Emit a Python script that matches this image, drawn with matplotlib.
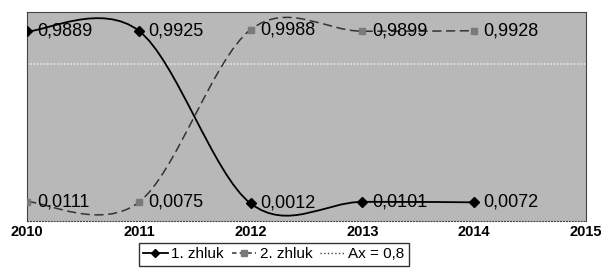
import matplotlib.pyplot as plt
from matplotlib.path import Path
from matplotlib.patches import PathPatch
from matplotlib.lines import Line2D

plt.rcParams['font.family'] = ['Liberation Sans', 'DejaVu Sans']

roky = [2010, 2011, 2012, 2013, 2014]
zhluk1 = [0.9889, 0.9925, 0.0012, 0.0101, 0.0072]
zhluk2 = [0.0111, 0.0075, 0.9988, 0.9899, 0.9928]
ax_hodnota = 0.8
popisky1 = ['0,9889', '0,9925', '0,0012', '0,0101', '0,0072']
popisky2 = ['0,0111', '0,0075', '0,9988', '0,9899', '0,9928']


def hladka_cesta(x, y):
    # vyhladena ciara ako v exceli (bezier cez body)
    body = list(zip(x, y))
    verts = [body[0]]
    codes = [Path.MOVETO]
    n = len(body)
    for i in range(n - 1):
        p0 = body[i - 1] if i > 0 else body[i]
        p1 = body[i]
        p2 = body[i + 1]
        p3 = body[i + 2] if i + 2 < n else body[i + 1]
        c1 = (p1[0] + (p2[0] - p0[0]) / 6, p1[1] + (p2[1] - p0[1]) / 6)
        c2 = (p2[0] - (p3[0] - p1[0]) / 6, p2[1] - (p3[1] - p1[1]) / 6)
        verts += [c1, c2, p2]
        codes += [Path.CURVE4] * 3
    return Path(verts, codes)


fig = plt.figure(figsize=(6.02, 2.71), dpi=100)
ax = fig.add_axes([0.045, 0.1845, 0.928, 0.771])
ax.set_facecolor('#b8b8b8')

ax.add_patch(PathPatch(hladka_cesta(roky, zhluk1), fill=False, edgecolor='black', lw=1.3, zorder=3))
ax.add_patch(PathPatch(hladka_cesta(roky, zhluk2), fill=False, edgecolor='#333333', lw=1.1,
                       linestyle=(0, (6, 3)), zorder=3))
ax.plot(roky, zhluk1, linestyle='none', marker='D', ms=5, color='black', zorder=4)
ax.plot(roky, zhluk2, linestyle='none', marker='s', ms=5, color='#7a7a7a', zorder=4)
ax.axhline(ax_hodnota, color='#e8e8e8', lw=1.2, linestyle=(0, (1, 1)), zorder=2)

for x, y, t in zip(roky, zhluk1, popisky1):
    ax.annotate(t, (x, y), xytext=(7, 0), textcoords='offset points', va='center', ha='left', fontsize=13, zorder=5)
for x, y, t in zip(roky, zhluk2, popisky2):
    ax.annotate(t, (x, y), xytext=(7, 0), textcoords='offset points', va='center', ha='left', fontsize=13, zorder=5)

ax.set_xlim(2010, 2015)
ax.set_ylim(-0.1, 1.1)
ax.set_xticks([2010, 2011, 2012, 2013, 2014, 2015])
ax.set_xticklabels(['2010', '2011', '2012', '2013', '2014', '2015'], fontsize=10.5, fontweight='bold')
ax.tick_params(axis='x', length=0, pad=3)
ax.set_yticks([])
for s in ax.spines.values():
    s.set_color('#444444')
    s.set_linewidth(0.8)
ax.spines['bottom'].set_linestyle(':')

handles = [
    Line2D([], [], color='black', lw=1.3, marker='D', ms=4),
    Line2D([], [], color='#333333', lw=1.1, linestyle=(0, (3, 2)), marker='s', ms=4, markerfacecolor='#7a7a7a',
           markeredgecolor='#7a7a7a'),
    Line2D([], [], color='#444444', lw=1.0, linestyle=':'),
]
leg = fig.legend(handles, ['1. zhluk', '2. zhluk', 'Ax = 0,8'], loc='upper center', ncol=3,
                 bbox_to_anchor=(0.455, 0.105), fontsize=11, frameon=True, fancybox=False,
                 handlelength=1.6, handletextpad=0.25, columnspacing=0.5, borderpad=0.3, borderaxespad=0)
leg.get_frame().set_edgecolor('black')
leg.get_frame().set_linewidth(1.0)

fig.savefig('out.png', dpi=100)
